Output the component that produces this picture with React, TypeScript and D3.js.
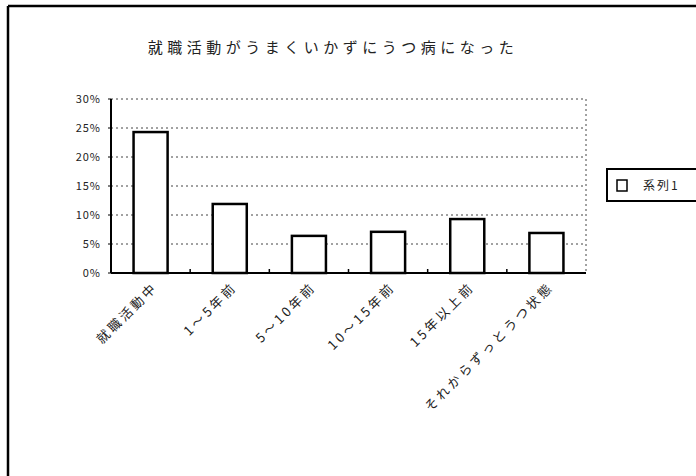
import React from "react";
import * as d3 from "d3";

const categories = ["就職活動中", "1～5年前", "5～10年前", "10～15年前", "15年以上前", "それからずっとうつ状態"];
const values = [24.3, 11.9, 6.4, 7.1, 9.3, 6.9];
const yTicks = [0, 5, 10, 15, 20, 25, 30];
const title = "就職活動がうまくいかずにうつ病になった";
const seriesName = "系列1";

const W = 696;
const H = 476;
const plot = { left: 111, right: 586, top: 99, bottom: 273 };
const FONT = "'Noto Sans CJK JP', 'Noto Sans', sans-serif";

export default function App() {
  const x = d3
    .scaleBand<string>()
    .domain(categories)
    .range([plot.left, plot.right])
    .paddingInner(0.57)
    .paddingOuter(0.285);
  const y = d3.scaleLinear().domain([0, 30]).range([plot.bottom, plot.top]);
  const step = x.step();
  const bounds = d3.range(1, categories.length).map((i) => plot.left + i * step);

  return (
    <svg width={W} height={H} style={{ position: "absolute", left: 0, top: 0, background: "#fff" }}>
      <rect x={0} y={0} width={W} height={H} fill="#fff" />
      {/* chart frame */}
      <line x1={8} y1={6} x2={W} y2={6} stroke="#000" strokeWidth={2.5} />
      <line x1={8} y1={6} x2={8} y2={H} stroke="#000" strokeWidth={2.5} />

      {/* title */}
      <text x={333} y={53} textAnchor="middle" fontFamily={FONT} fontSize={15} letterSpacing={4.5} fill="#222">
        {title}
      </text>

      {/* grid lines */}
      {yTicks.filter((t) => t > 0).map((t) => (
        <line key={t} x1={plot.left} x2={plot.right} y1={y(t)} y2={y(t)} stroke="#444" strokeWidth={1} strokeDasharray="2,3" />
      ))}
      <line x1={plot.right} x2={plot.right} y1={plot.top} y2={plot.bottom} stroke="#444" strokeWidth={1} strokeDasharray="2,3" />

      {/* bars */}
      {categories.map((c, i) => (
        <rect
          key={c}
          x={x(c)}
          y={y(values[i])}
          width={x.bandwidth()}
          height={plot.bottom - y(values[i])}
          fill="#fff"
          stroke="#000"
          strokeWidth={2.5}
        />
      ))}

      {/* axes */}
      <line x1={plot.left} x2={plot.left} y1={plot.top} y2={plot.bottom} stroke="#000" strokeWidth={2} />
      <line x1={plot.left} x2={plot.right} y1={plot.bottom} y2={plot.bottom} stroke="#000" strokeWidth={2} />
      {bounds.map((b, i) => (
        <line key={i} x1={b} x2={b} y1={plot.bottom} y2={plot.bottom - 4} stroke="#000" strokeWidth={1.5} />
      ))}
      {yTicks.map((t) => (
        <g key={t}>
          <line x1={plot.left - 3} x2={plot.left} y1={y(t)} y2={y(t)} stroke="#000" strokeWidth={1} />
          <text x={101} y={y(t)} dy="0.35em" textAnchor="end" fontFamily={FONT} fontSize={11} letterSpacing={1} fill="#222">
            {t}%
          </text>
        </g>
      ))}

      {/* category labels */}
      {categories.map((c) => {
        const cx = (x(c) ?? 0) + x.bandwidth() / 2;
        return (
          <text
            key={c}
            transform={`translate(${cx + 8},${plot.bottom + 15}) rotate(-45)`}
            textAnchor="end"
            fontFamily={FONT}
            fontSize={13}
            letterSpacing={3}
            fill="#222"
          >
            {c}
          </text>
        );
      })}

      {/* legend */}
      <rect x={607} y={169} width={100} height={32} fill="#fff" stroke="#000" strokeWidth={2} />
      <rect x={617} y={180} width={10} height={11} fill="#fff" stroke="#000" strokeWidth={1.5} />
      <text x={643} y={186} dy="0.35em" fontFamily={FONT} fontSize={12} letterSpacing={2} fill="#222">
        {seriesName}
      </text>
    </svg>
  );
}
